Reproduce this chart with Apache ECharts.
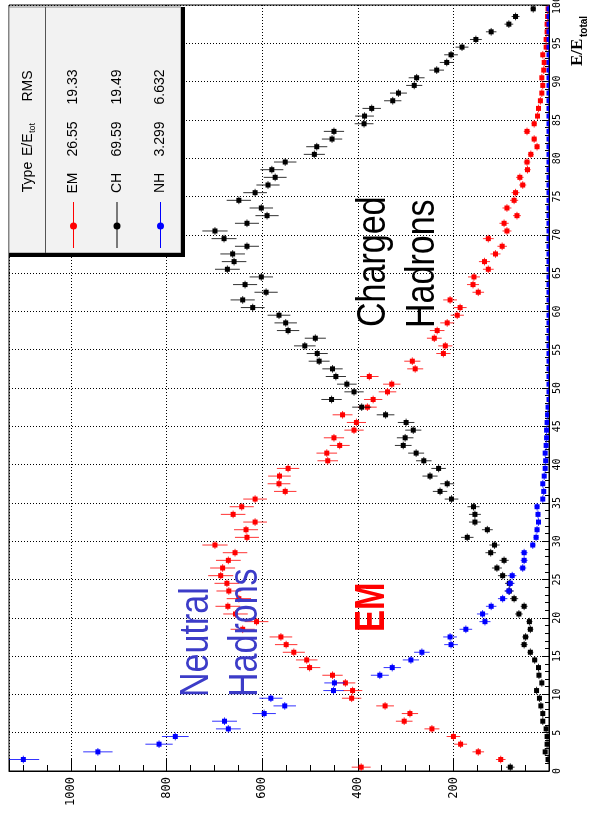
<!DOCTYPE html>
<html>
<head>
<meta charset="utf-8">
<script src="https://cdn.jsdelivr.net/npm/echarts@6/dist/echarts.min.js"></script>
<style>html,body{margin:0;padding:0;background:#fff;}#c{width:590px;height:822px;}</style>
</head>
<body>
<div id="c"></div>
<script>
// Histogram bins: E/E_total in % (bin centers of 1-unit bins)
const binCenters = Array.from({length: 100}, (_, i) => i + 0.5);

// EM fraction counts
const emCounts = [393,101,148,185,200,245,303,291,343,413,
  411,426,453,501,507,534,550,561,641,612,
  656,672,649,670,674,687,683,671,657,699,
  632,634,615,661,643,615,552,565,564,546,
  463,465,438,450,408,403,432,380,368,338,
  329,376,280,286,221,217,240,234,213,192,
  186,207,148,159,157,127,135,112,98,127,
  88,94,67,88,73,70,55,61,45,46,
  38,25,31,46,31,24,22,18,15,13,
  15,11,10,13,6,6,4,4,3,2];

// Charged hadron fraction counts
const chCounts = [81,2,8,4,4,6,13,13,17,20,
  26,15,21,22,30,39,52,49,39,41,
  63,52,73,83,83,97,109,94,122,114,
  171,129,155,155,158,204,228,213,249,231,
  262,278,305,301,284,299,342,392,455,408,
  423,446,453,481,485,511,489,546,551,565,
  620,641,592,636,602,673,659,662,632,680,
  699,632,590,602,649,615,588,573,580,552,
  491,486,454,450,387,386,371,327,315,282,
  277,235,214,205,182,153,121,84,70,33];

// Neutral hadron fraction counts (first bin is off scale)
const nhCounts = [null,1100,944,816,782,671,679,596,553,582,
  451,449,354,328,289,266,205,207,174,134,
  139,121,97,84,81,77,55,52,52,34,
  27,25,22,23,25,13,11,13,10,8,
  7,8,6,5,5,4,3,2,0,0,
  0,0,0,0,0,0,0,0,0,0,
  0,0,0,0,0,0,0,0,0,0,
  0,0,0,0,0,0,0,0,0,0,
  0,0,0,0,0,0,0,0,0,0,
  0,0,0,0,0,0,0,0,0,0];

// Legend table
const legendHeader = ['Type', 'E/E', 'tot', 'RMS'];
const legendRows = [
  {name: 'EM', mean: '26.55', rms: '19.33', color: '#ff0000'},
  {name: 'CH', mean: '69.59', rms: '19.49', color: '#000000'},
  {name: 'NH', mean: '3.299', rms: '6.632', color: '#0000ff'}
];

const countTicks = {min: 0, max: 1130, interval: 200};
const fracTicks = {min: 0, max: 100, interval: 5};

function makeSeries(name, values, color) {
  const data = [];
  values.forEach((v, i) => {
    if (v === null || v === undefined) return;
    data.push([binCenters[i], v, Math.sqrt(v)]);
  });
  return {
    type: 'custom',
    name: name,
    data: data,
    clip: true,
    z: 5,
    encode: {x: 1, y: 0},
    renderItem: function (params, api) {
      const e = api.value(0), c = api.value(1), err = api.value(2);
      const p = api.coord([c, e]);
      const pl = api.coord([c - err, e]);
      const pr = api.coord([c + err, e]);
      const pb = api.coord([c, e - 0.5]);
      const pt = api.coord([c, e + 0.5]);
      return {
        type: 'group',
        children: [
          {type: 'line', shape: {x1: pl[0], y1: p[1], x2: pr[0], y2: p[1]},
           style: {stroke: color, lineWidth: 1, opacity: 0.8}},
          {type: 'line', shape: {x1: p[0], y1: pb[1], x2: p[0], y2: pt[1]},
           style: {stroke: color, lineWidth: 1, opacity: 0.8}},
          {type: 'rect', shape: {x: p[0] - 2.5, y: p[1] - 2.5, width: 5, height: 5},
           style: {fill: color}}
        ]
      };
    }
  };
}

// rotated text (reads bottom-to-top), bx = baseline x, sy = start y
function rtext(str, bx, sy, size, color, opts) {
  opts = opts || {};
  const fam = opts.family || '"Liberation Sans", Arial, sans-serif';
  const off = 0.3465 * size;
  return {
    type: 'text', z: 100,
    x: bx - off, y: sy, rotation: Math.PI / 2,
    scaleX: opts.sx || 1, scaleY: 1,
    style: {
      text: str, fill: color,
      font: (opts.weight || 'normal') + ' ' + size + 'px ' + fam,
      align: 'left', verticalAlign: 'middle',
      textAlign: 'left', textVerticalAlign: 'middle'
    }
  };
}
// rotated text centred on (cx, cy)
function ctext(str, cx, cy, size, color, opts) {
  opts = opts || {};
  const fam = opts.family || '"Liberation Sans", Arial, sans-serif';
  return {
    type: 'text', z: 100,
    x: cx, y: cy, rotation: Math.PI / 2,
    style: {
      text: str, fill: color,
      font: (opts.weight || 'normal') + ' ' + size + 'px ' + fam,
      align: 'center', verticalAlign: 'middle',
      textAlign: 'center', textVerticalAlign: 'middle'
    }
  };
}

const graphics = [];
// legend box
graphics.push({type: 'rect', z: 99, shape: {x: 9, y: 7, width: 172, height: 246},
  style: {fill: '#f2f2f2', stroke: '#888', lineWidth: 1}});
graphics.push({type: 'rect', z: 100, shape: {x: 181, y: 7, width: 4, height: 250}, style: {fill: '#000'}});
graphics.push({type: 'rect', z: 100, shape: {x: 9, y: 253, width: 176, height: 4}, style: {fill: '#000'}});
graphics.push({type: 'line', z: 100, shape: {x1: 45.5, y1: 7, x2: 45.5, y2: 253},
  style: {stroke: '#555', lineWidth: 1}});
// header
graphics.push(ctext(legendHeader[0], 28, 177, 14, '#000'));
graphics.push(rtext(legendHeader[1], 33, 156, 14, '#000'));
graphics.push(rtext(legendHeader[2], 36, 133, 9, '#000'));
graphics.push(ctext(legendHeader[3], 28, 86, 14, '#000'));
// rows
const rowX = [73.5, 117, 160.5];
legendRows.forEach((r, i) => {
  const x = rowX[i];
  graphics.push({type: 'line', z: 100, shape: {x1: x, y1: 202, x2: x, y2: 248},
    style: {stroke: r.color, lineWidth: 1}});
  graphics.push({type: 'circle', z: 101, shape: {cx: x, cy: 226, r: 3.5}, style: {fill: r.color}});
  graphics.push(ctext(r.name, x, 183, 14, '#000'));
  graphics.push(ctext(r.mean, x, 139, 14, '#000'));
  graphics.push(ctext(r.rms, x, 87, 14, '#000'));
});
// annotations
graphics.push(rtext('Neutral', 211, 697, 41, '#3c3cc8', {sx: 0.83}));
graphics.push(rtext('Hadrons', 260, 697, 41, '#3c3cc8', {sx: 0.83}));
graphics.push(rtext('EM', 387, 632, 43, '#ff0000', {sx: 0.77, weight: 'bold'}));
graphics.push(rtext('Charged', 388, 327, 41, '#000', {sx: 0.83}));
graphics.push(rtext('Hadrons', 437, 328, 41, '#000', {sx: 0.83}));
// axis title E/E_total
graphics.push(rtext('E/E', 583, 66, 17, '#000', {weight: 'bold', family: '"Liberation Serif", serif'}));
graphics.push(rtext('total', 588, 37, 10, '#000', {weight: 'bold'}));

const chart = echarts.init(document.getElementById('c'), null, {renderer: 'canvas'});
chart.setOption({
  backgroundColor: '#fff',
  animation: false,
  grid: {left: 9, right: 41, top: 5, bottom: 51, containLabel: false, outerBoundsMode: 'none',
    show: true, borderColor: '#000', borderWidth: 1, backgroundColor: 'transparent'},
  xAxis: {
    type: 'value', min: countTicks.min, max: countTicks.max, interval: countTicks.interval,
    inverse: true, position: 'bottom',
    axisLine: {show: true, lineStyle: {color: '#000', width: 1}},
    axisTick: {show: true, inside: true, length: 12, lineStyle: {color: '#000'}},
    minorTick: {show: true, splitNumber: 4, length: 6, lineStyle: {color: '#000'}},
    splitLine: {show: true, lineStyle: {color: '#000', type: [1, 2], width: 1}},
    axisLabel: {rotate: 90, margin: 6, color: '#000', fontSize: 12,
      fontFamily: '"DejaVu Sans Mono", monospace',
      showMinLabel: false, showMaxLabel: false,
      formatter: v => (v > 0 && v % 200 === 0) ? String(v) : ''}
  },
  yAxis: {
    type: 'value', min: fracTicks.min, max: fracTicks.max, interval: fracTicks.interval,
    position: 'right',
    axisLine: {show: true, lineStyle: {color: '#000', width: 1}},
    axisTick: {show: true, inside: true, length: 7, lineStyle: {color: '#000'}},
    minorTick: {show: true, splitNumber: 5, length: 4, lineStyle: {color: '#000'}},
    splitLine: {show: true, lineStyle: {color: '#000', type: [1, 2], width: 1}},
    axisLabel: {rotate: 90, margin: 3, color: '#000', fontSize: 10,
      fontFamily: '"DejaVu Sans Mono", monospace', showMinLabel: true, showMaxLabel: true}
  },
  series: [
    makeSeries('EM', emCounts, '#ff0000'),
    makeSeries('CH', chCounts, '#000000'),
    makeSeries('NH', nhCounts, '#0000ff')
  ],
  graphic: {elements: graphics}
});
</script>
</body>
</html>
